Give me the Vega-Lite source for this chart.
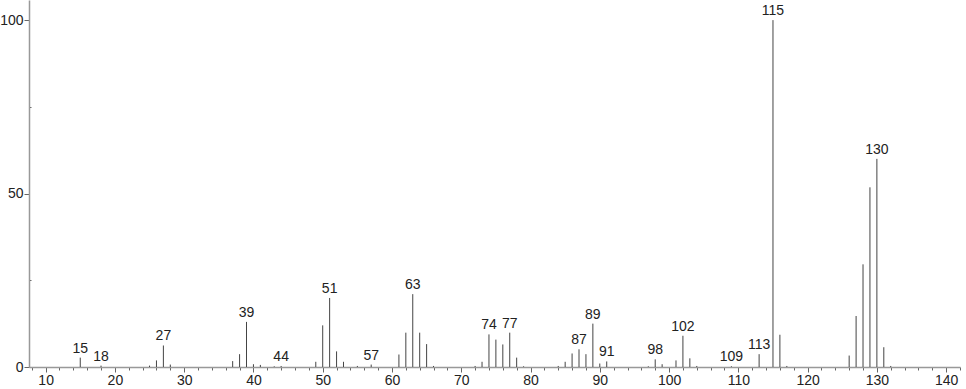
{
  "$schema": "https://vega.github.io/schema/vega-lite/v6.json",
  "width": 931,
  "height": 367,
  "autosize": "none",
  "padding": {"left": 29, "top": 0, "right": 6, "bottom": 22},
  "background": "white",
  "config": {"view": {"stroke": null}, "font": "Liberation Sans"},
  "data": {"values": [
    {"mz": 15, "int": 2.7, "label": "15"},
    {"mz": 18, "int": 0.4, "label": "18"},
    {"mz": 25, "int": 0.4, "label": ""},
    {"mz": 26, "int": 1.9, "label": ""},
    {"mz": 27, "int": 6.2, "label": "27"},
    {"mz": 28, "int": 0.7, "label": ""},
    {"mz": 37, "int": 1.7, "label": ""},
    {"mz": 38, "int": 3.7, "label": ""},
    {"mz": 39, "int": 13.0, "label": "39"},
    {"mz": 40, "int": 0.8, "label": ""},
    {"mz": 41, "int": 0.6, "label": ""},
    {"mz": 43, "int": 0.2, "label": ""},
    {"mz": 44, "int": 0.3, "label": "44"},
    {"mz": 49, "int": 1.5, "label": ""},
    {"mz": 50, "int": 12.0, "label": ""},
    {"mz": 51, "int": 19.9, "label": "51"},
    {"mz": 52, "int": 4.5, "label": ""},
    {"mz": 53, "int": 1.5, "label": ""},
    {"mz": 55, "int": 0.3, "label": ""},
    {"mz": 57, "int": 0.7, "label": "57"},
    {"mz": 61, "int": 3.6, "label": ""},
    {"mz": 62, "int": 9.9, "label": ""},
    {"mz": 63, "int": 21.0, "label": "63"},
    {"mz": 64, "int": 9.9, "label": ""},
    {"mz": 65, "int": 6.6, "label": ""},
    {"mz": 66, "int": 0.3, "label": ""},
    {"mz": 72, "int": 0.3, "label": ""},
    {"mz": 73, "int": 1.5, "label": ""},
    {"mz": 74, "int": 9.4, "label": "74"},
    {"mz": 75, "int": 7.9, "label": ""},
    {"mz": 76, "int": 6.5, "label": ""},
    {"mz": 77, "int": 9.9, "label": "77"},
    {"mz": 78, "int": 2.7, "label": ""},
    {"mz": 79, "int": 0.2, "label": ""},
    {"mz": 84, "int": 0.3, "label": ""},
    {"mz": 85, "int": 1.5, "label": ""},
    {"mz": 86, "int": 3.9, "label": ""},
    {"mz": 87, "int": 5.1, "label": "87"},
    {"mz": 88, "int": 3.7, "label": ""},
    {"mz": 89, "int": 12.5, "label": "89"},
    {"mz": 90, "int": 1.0, "label": ""},
    {"mz": 91, "int": 1.6, "label": "91"},
    {"mz": 97, "int": 0.2, "label": ""},
    {"mz": 98, "int": 2.2, "label": "98"},
    {"mz": 99, "int": 0.8, "label": ""},
    {"mz": 101, "int": 1.9, "label": ""},
    {"mz": 102, "int": 9.0, "label": "102"},
    {"mz": 103, "int": 2.5, "label": ""},
    {"mz": 104, "int": 0.3, "label": ""},
    {"mz": 109, "int": 0.2, "label": "109"},
    {"mz": 113, "int": 3.7, "label": "113"},
    {"mz": 115, "int": 100, "label": "115"},
    {"mz": 116, "int": 9.3, "label": ""},
    {"mz": 117, "int": 0.3, "label": ""},
    {"mz": 126, "int": 3.3, "label": ""},
    {"mz": 127, "int": 14.7, "label": ""},
    {"mz": 128, "int": 29.6, "label": ""},
    {"mz": 129, "int": 51.8, "label": ""},
    {"mz": 130, "int": 60.0, "label": "130"},
    {"mz": 131, "int": 5.7, "label": ""},
    {"mz": 132, "int": 0.3, "label": ""}
  ]},
  "layer": [
    {
      "mark": {"type": "rule", "color": "#444", "strokeWidth": 1},
      "encoding": {
        "x": {
          "field": "mz", "type": "quantitative",
          "scale": {"domain": [7.6, 142], "nice": false, "zero": false},
          "axis": {
            "title": null, "grid": false,
            "tickCount": 200,
            "format": "d",
            "values": [8,10,12,14,16,18,20,22,24,26,28,30,32,34,36,38,40,42,44,46,48,50,52,54,56,58,60,62,64,66,68,70,72,74,76,78,80,82,84,86,88,90,92,94,96,98,100,102,104,106,108,110,112,114,116,118,120,122,124,126,128,130,132,134,136,138,140,142],
            "labelExpr": "datum.value % 10 === 0 ? datum.label : ''",
            "labelOverlap": false,
            "labelBound": false,
            "tickSize": {"condition": {"test": "datum.value % 10 === 0", "value": 5}, "value": 3},
            "tickColor": "#666",
            "domainColor": "#999",
            "domainWidth": 1.5,
            "labelFontSize": 14,
            "labelColor": "#222",
            "labelPadding": 1,
            "labelFlush": false
          }
        },
        "y": {
          "field": "int", "type": "quantitative",
          "scale": {"domain": [0, 105.8], "nice": false},
          "axis": {
            "title": null, "grid": false,
            "tickCount": 20,
            "format": "d",
            "values": [0, 25, 50, 75, 100],
            "labelExpr": "datum.value % 50 === 0 ? datum.label : ''",
            "labelOverlap": false,
            "labelBound": false,
            "tickSize": {"condition": {"test": "datum.value % 50 === 0", "value": 5}, "value": -2},
            "tickColor": "#666",
            "domainColor": "#999",
            "domainWidth": 1.5,
            "labelFontSize": 14,
            "labelColor": "#222",
            "labelPadding": 1,
            "labelFlush": false
          }
        },
        "y2": {"datum": 0}
      }
    },
    {
      "transform": [{"filter": "datum.label !== ''"}],
      "mark": {"type": "text", "baseline": "alphabetic", "align": "center", "dy": -5, "fontSize": 14, "color": "#222"},
      "encoding": {
        "x": {"field": "mz", "type": "quantitative"},
        "y": {"field": "int", "type": "quantitative"},
        "text": {"field": "label"}
      }
    }
  ]
}
